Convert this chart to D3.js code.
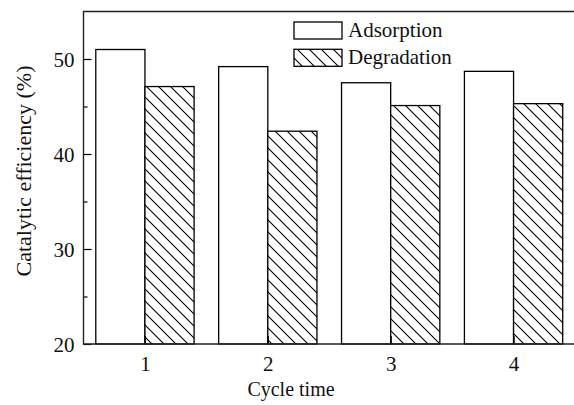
<!DOCTYPE html>
<html>
<head>
<meta charset="utf-8">
<script src="https://cdn.jsdelivr.net/npm/d3@7"></script>
<style>
  body { margin: 0; background: #fff; }
  text { font-family: "Liberation Serif", "Times New Roman", serif; fill: #111; }
</style>
</head>
<body>
<svg width="574" height="405"></svg>
<script>
// Data
var cycles = [1, 2, 3, 4];
var adsorption = [51.0, 49.2, 47.5, 48.7];
var degradation = [47.1, 42.4, 45.1, 45.3];
var seriesNames = ["Adsorption", "Degradation"];
var yMajorTicks = [20, 30, 40, 50];
var yMinorTicks = [25, 35, 45];

var svg = d3.select("svg");

// Frame of the plot (don't call it "top", window.top is read only)
var plotLeft = 83.5, plotRight = 575, plotTop = 11.5, plotBottom = 344;

var x = d3.scaleLinear().domain([0.5, 4.5]).range([plotLeft, plotRight]);
var y = d3.scaleLinear().domain([20, 55]).range([plotBottom, plotTop]);
var barW = x(1.4) - x(1);

// hatch pattern for degradation bars
var defs = svg.append("defs");
var pat = defs.append("pattern")
    .attr("id", "hatch")
    .attr("patternUnits", "userSpaceOnUse")
    .attr("width", 12)
    .attr("height", 12);
pat.append("rect").attr("width", 12).attr("height", 12).attr("fill", "#fff");
pat.append("path")
    .attr("d", "M0,0 L12,12 M-3,9 L3,15 M9,-3 L15,3")
    .attr("stroke", "#000")
    .attr("stroke-width", 1.1);

// bars
var g = svg.append("g");
g.selectAll(".ads")
    .data(cycles)
    .enter().append("rect")
    .attr("class", "ads")
    .attr("x", function(d) { return x(d) - barW; })
    .attr("y", function(d, i) { return y(adsorption[i]); })
    .attr("width", barW)
    .attr("height", function(d, i) { return y(20) - y(adsorption[i]); })
    .attr("fill", "#fff")
    .attr("stroke", "#000")
    .attr("stroke-width", 1.3);

g.selectAll(".deg")
    .data(cycles)
    .enter().append("rect")
    .attr("class", "deg")
    .attr("x", function(d) { return x(d); })
    .attr("y", function(d, i) { return y(degradation[i]); })
    .attr("width", barW)
    .attr("height", function(d, i) { return y(20) - y(degradation[i]); })
    .attr("fill", "url(#hatch)")
    .attr("stroke", "#000")
    .attr("stroke-width", 1.3);

// axes (ticks inward)
var yAxis = d3.axisLeft(y).tickValues(yMajorTicks).tickSizeInner(-8).tickSizeOuter(0).tickPadding(10);
var yG = svg.append("g").attr("transform", "translate(" + plotLeft + ",0)").call(yAxis)
    .attr("font-family", "Liberation Serif");
yG.select(".domain").remove();
yG.selectAll("text").style("font-size", "21px").attr("x", -9).attr("dy", "0.34em");

var yMinor = d3.axisLeft(y).tickValues(yMinorTicks).tickSize(-4).tickFormat("");
var yMg = svg.append("g").attr("transform", "translate(" + plotLeft + ",0)").call(yMinor);
yMg.select(".domain").remove();

var xAxis = d3.axisBottom(x).tickValues(cycles).tickSizeInner(-8).tickSizeOuter(0).tickPadding(12)
    .tickFormat(d3.format("d"));
var xG = svg.append("g").attr("transform", "translate(0," + plotBottom + ")").call(xAxis)
    .attr("font-family", "Liberation Serif");
xG.select(".domain").remove();
xG.selectAll("text").style("font-size", "21px");

svg.selectAll(".tick line").attr("stroke", "#000").attr("stroke-width", 1.2);

// frame
svg.append("path")
    .attr("d", "M" + plotRight + "," + plotTop + " L" + plotLeft + "," + plotTop +
               " L" + plotLeft + "," + plotBottom + " L" + plotRight + "," + plotBottom)
    .attr("fill", "none")
    .attr("stroke", "#222")
    .attr("stroke-width", 1.4);

// axis titles
svg.append("text")
    .attr("x", 291)
    .attr("y", 396)
    .attr("text-anchor", "middle")
    .style("font-size", "20px")
    .text("Cycle time");

svg.append("text")
    .attr("transform", "translate(31,171) rotate(-90)")
    .attr("text-anchor", "middle")
    .style("font-size", "22px")
    .text("Catalytic efficiency (%)");

// legend
var legend = svg.append("g").attr("transform", "translate(294,22)");
var fills = ["#fff", "url(#hatch)"];
seriesNames.forEach(function(name, i) {
    legend.append("rect")
        .attr("x", 0)
        .attr("y", i * 27.3)
        .attr("width", 48)
        .attr("height", 17)
        .attr("fill", fills[i])
        .attr("stroke", "#000")
        .attr("stroke-width", 1.3);
    legend.append("text")
        .attr("x", 54)
        .attr("y", i * 27.3 + 15)
        .style("font-size", "21px")
        .text(name);
});
</script>
</body>
</html>
